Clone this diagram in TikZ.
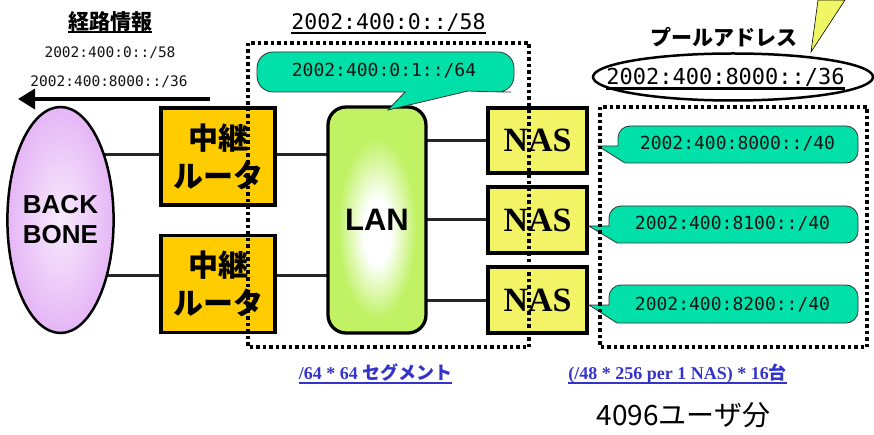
\documentclass[tikz,border=0pt]{standalone}
\usepackage{fontspec}
\setmainfont{Liberation Serif}
\setsansfont{Liberation Sans}
\newfontfamily\cjk{Noto Sans CJK JP}
\newfontfamily\mono{DejaVu Sans Mono}
\usetikzlibrary{shapes.geometric,arrows.meta,backgrounds}

\definecolor{routerfill}{RGB}{255,204,0}
\definecolor{nasfill}{RGB}{242,244,102}
\definecolor{wedgefill}{RGB}{240,246,100}
\definecolor{balloonfill}{RGB}{0,224,168}
\definecolor{langreen}{RGB}{192,242,100}
\definecolor{bbinner}{RGB}{248,234,253}
\definecolor{bbouter}{RGB}{229,182,246}
\definecolor{linkblue}{RGB}{52,52,204}
\definecolor{addrgray}{RGB}{20,20,20}

\pgfdeclareradialshading{lanshade}{\pgfpoint{0bp}{-3bp}}{%
  color(0bp)=(white); color(7bp)=(white); color(20bp)=(langreen);
  color(25bp)=(langreen); color(50bp)=(langreen)}

\newcommand\fsz[1]{\fontsize{#1}{#1}\selectfont}

\begin{document}
\begin{tikzpicture}[x=1pt,y=-1pt,
  wire/.style={line width=3pt, draw=black!85},
  router/.style={draw, line width=3.3pt, fill=routerfill, inner sep=0,
    minimum width=114pt, minimum height=97pt, align=center,
    font=\cjk\bfseries\fontsize{30}{38}\selectfont},
  nasbox/.style={draw, line width=3.3pt, fill=nasfill, inner sep=0,
    minimum width=99pt, minimum height=66pt,
    font=\rmfamily\bfseries\fsz{34}},
  lanbox/.style={draw, line width=3.3pt, rounded corners=18pt, shade,
    shading=lanshade, inner sep=0, minimum width=98pt, minimum height=226pt,
    font=\sffamily\bfseries\fsz{31}},
  bbnode/.style={ellipse, draw, line width=2.5pt, inner sep=0,
    minimum width=105pt, minimum height=226pt, shade,
    inner color=bbinner, outer color=bbouter, align=center,
    font=\sffamily\bfseries\fontsize{26}{30}\selectfont},
  balloon/.style={fill=balloonfill, draw=black!80, line width=0.8pt},
  addr/.style={anchor=base, inner sep=0, text=addrgray},
  dotbox/.style={line width=3.5pt, dash pattern=on 3.5pt off 3pt},
  uline/.style={line width=2pt},
  bluetext/.style={anchor=base, inner sep=0, text=linkblue,
    font=\rmfamily\bfseries\fsz{18}}
]
\useasboundingbox (0,0) rectangle (874,435);

% --- network elements ---
\node[bbnode] (bb) at (60.5,220) {BACK\\BONE};
\node[router] (r1) at (218,156.5) {中継\\ルータ};
\node[router] (r2) at (218,284) {中継\\ルータ};
\node[lanbox] (lan) at (377,220) {LAN};
\node[nasbox, minimum height=65pt] (n1) at (537.5,140.5) {NAS};
\node[nasbox] (n2) at (537.5,220) {NAS};
\node[nasbox] (n3) at (537.5,300) {NAS};

% --- links ---
\begin{scope}[on background layer]
  \draw[wire] ([yshift=1.5pt]r1.west -| bb.center) -- ([yshift=1.5pt]r1.west);
  \draw[wire] ([yshift=9pt]r2.west -| bb.center) -- ([yshift=9pt]r2.west);
  \draw[wire] ([yshift=1.5pt]r1.east) -- ([yshift=1.5pt]r1.east -| lan.center);
  \draw[wire] ([yshift=9pt]r2.east) -- ([yshift=9pt]r2.east -| lan.center);
  \draw[wire] (lan.center |- n1.west) -- (n1.west);
  \draw[wire] (lan.center |- n2.west) -- (n2.west);
  \draw[wire] (lan.center |- n3.west) -- (n3.west);
\end{scope}

% --- routing information ---
\node[font=\cjk\bfseries\fsz{21}, anchor=base, inner sep=0] (keiro) at (110,29.5) {経路情報};
\draw[uline] ([yshift=-3pt]keiro.base west) -- ([yshift=-3pt]keiro.base east);
\node[addr, font=\mono\fsz{14.5}] (rt1) at (110,58) {2002:400:0::/58};
\node[addr, font=\mono\fsz{14.5}] (rt2) at (109,87) {2002:400:8000::/36};
\coordinate (arrS) at (210,99);
\coordinate (arrE) at (18,99);
\draw[line width=3.5pt, -{Triangle[length=17pt,width=20pt]}] (arrS) -- (arrE);

% --- LAN segment prefix ---
\node[addr, font=\mono\fsz{21.5}, text=black] (seg) at (388.5,30) {2002:400:0::/58};
\draw[uline] ([yshift=-3pt]seg.base west) -- ([yshift=-3pt]seg.base east);
\filldraw[balloon] (405,92) [rounded corners=16pt] -- (257,92) -- (257,52)
  -- (514,52) -- (514,92) -- (495,92) [sharp corners] -- (468,91) -- (388,110) -- cycle;
\node[addr, font=\mono\fsz{18}] (lanpfx) at (384,77) {2002:400:0:1::/64};

% --- pool address ---
\filldraw[fill=wedgefill, draw=black, line width=0.6pt] (811,52) -- (818,0) -- (845,0) -- cycle;
\node[font=\cjk\bfseries\fsz{21}, anchor=base, inner sep=0] (pool) at (724,46) {プールアドレス};
\node[ellipse, draw, line width=2.5pt, minimum width=280pt, minimum height=47pt, inner sep=0] (poolring) at (733,77) {};
\node[addr, font=\mono\fsz{22}, text=black] (poolpfx) at (725.5,85) {2002:400:8000::/36};
\draw[uline, line width=2.3pt] ([yshift=-3.5pt]poolpfx.base west) -- ([yshift=-3.5pt]poolpfx.base east);

% --- per-NAS prefixes ---
\filldraw[balloon] (618,146) [rounded corners=12pt] -- (618,126) -- (858,126)
  -- (858,163) -- (645,163) [sharp corners] -- (625,163) -- (598,146) -- cycle;
\filldraw[balloon] (609,226) [rounded corners=12pt] -- (609,206) -- (858,206)
  -- (858,243) -- (640,243) [sharp corners] -- (617,243) -- (589,226) -- cycle;
\filldraw[balloon] (609,305) [rounded corners=12pt] -- (609,285) -- (858,285)
  -- (858,323) -- (640,323) [sharp corners] -- (617,323) -- (589,305) -- cycle;
\node[addr, font=\mono\fsz{18}] (p1) at (737.5,150) {2002:400:8000::/40};
\node[addr, font=\mono\fsz{18}] (p2) at (732.5,230) {2002:400:8100::/40};
\node[addr, font=\mono\fsz{18}] (p3) at (732.5,310) {2002:400:8200::/40};

% --- group outlines ---
\draw[dotbox] (248,43) rectangle (529,347);
\draw[dotbox] (600,107) rectangle (867,347);

% --- captions ---
\node[bluetext] (cap1) at (375.5,379) {/64 * 64 {\cjk セグメント}};
\draw[uline, line width=1.5pt, linkblue] ([yshift=-4pt]cap1.base west) -- ([yshift=-4pt]cap1.base east);
\node[bluetext] (cap2) at (677.5,379) {(/48 * 256 per 1 NAS) * 16{\cjk 台}};
\draw[uline, line width=1.5pt, linkblue] ([yshift=-4pt]cap2.base west) -- ([yshift=-4pt]cap2.base east);
\node[font=\cjk\fsz{28}, inner sep=0] (users) at (683.5,415) {4096ユーザ分};
\end{tikzpicture}
\end{document}
